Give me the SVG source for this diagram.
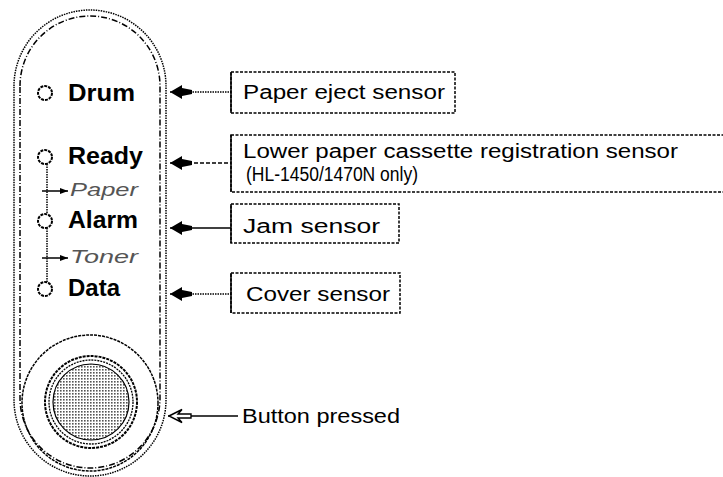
<svg xmlns="http://www.w3.org/2000/svg" width="723" height="477" viewBox="0 0 723 477">
<style>
.lbl{font-family:"Liberation Sans",Arial,sans-serif;font-weight:bold;font-size:23px;fill:#000}
.sub{font-family:"Liberation Sans",Arial,sans-serif;font-style:italic;font-size:19px;fill:#555}
.txt{font-family:"Liberation Sans",Arial,sans-serif;font-size:20px;fill:#000}
.box{fill:#fff;stroke:#000;stroke-width:1.5;stroke-dasharray:3 1.5}
.edge{stroke:#000;stroke-width:1.5;fill:none}
.led{fill:#fff;stroke:#000;stroke-width:2;stroke-dasharray:3 1}
</style>
<defs>
<pattern id="dots" width="3" height="3" patternUnits="userSpaceOnUse">
<rect width="3" height="3" fill="#fff"/>
<rect width="1.6" height="1.6" fill="#555"/>
</pattern>
<marker id="fill" markerUnits="userSpaceOnUse" markerWidth="24" markerHeight="16" refX="0" refY="8" orient="0" viewBox="0 0 24 16">
<path d="M0,8 L12,1 L12,4 L22,6 L22,10 L12,12 L12,15 Z" fill="#000"/>
</marker>
<marker id="hollow" markerUnits="userSpaceOnUse" markerWidth="24" markerHeight="16" refX="0" refY="8" orient="0" viewBox="0 0 24 16">
<path d="M1,8 L14,1.5 L10,6 L23,6 L23,10 L10,10 L14,14.5 Z" fill="#fff" stroke="#000" stroke-width="1.4"/>
</marker>
<marker id="small" markerUnits="userSpaceOnUse" markerWidth="10" markerHeight="8" refX="8" refY="4" orient="0" viewBox="0 0 10 8">
<path d="M0,1 L8,4 L0,7 Z" fill="#000"/>
</marker>
</defs>

<g id="panel">
<path d="M14,86 A76,76 0 0 1 166,86 L166,400 A76,76 0 0 1 14,400 Z" fill="none" stroke="#000" stroke-width="1.5" stroke-dasharray="1.5 1"/>
<path d="M20,86 A70,70 0 0 1 160,86 L160,398 A70,70 0 0 1 20,398 Z" fill="none" stroke="#000" stroke-width="1.5" stroke-dasharray="6 2 1 2"/>
<circle cx="90" cy="403" r="68" fill="none" stroke="#000" stroke-width="1.5" stroke-dasharray="3 1"/>
</g>

<g id="button">
<circle cx="91" cy="402" r="46" fill="#fff" stroke="#000" stroke-width="2" stroke-dasharray="3 1"/>
<circle cx="91" cy="402" r="42" fill="none" stroke="#000" stroke-width="1.3" stroke-dasharray="2 1"/>
<circle cx="91" cy="402" r="38" fill="url(#dots)" stroke="#000" stroke-width="1.2"/>
</g>

<g id="led-drum"><circle class="led" cx="45" cy="93" r="7"/><text class="lbl" x="68" y="101" textLength="67" lengthAdjust="spacingAndGlyphs">Drum</text></g>
<g id="led-ready"><circle class="led" cx="45" cy="157" r="7"/><text class="lbl" x="68" y="164" textLength="75" lengthAdjust="spacingAndGlyphs">Ready</text></g>
<g id="led-alarm"><circle class="led" cx="45" cy="221" r="7"/><text class="lbl" x="68" y="228" textLength="70" lengthAdjust="spacingAndGlyphs">Alarm</text></g>
<g id="led-data"><circle class="led" cx="45" cy="289" r="7"/><text class="lbl" x="68" y="296" textLength="52" lengthAdjust="spacingAndGlyphs">Data</text></g>
<g id="paper-label"><text class="sub" x="70" y="196" textLength="68" lengthAdjust="spacingAndGlyphs">Paper</text></g>
<g id="toner-label"><text class="sub" x="70" y="263" textLength="68" lengthAdjust="spacingAndGlyphs">Toner</text></g>

<g id="box-eject"><rect class="box" x="231" y="72" width="224" height="41"/><line x1="231" y1="72" x2="231" y2="113" stroke="#000" stroke-width="1.5"/><text class="txt" x="243" y="99" textLength="202" lengthAdjust="spacingAndGlyphs">Paper eject sensor</text></g>
<g id="box-reg"><rect class="box" x="231" y="135" width="500" height="57" stroke-dasharray="1 0.6"/><line x1="231" y1="135" x2="231" y2="192" stroke="#000" stroke-width="1.5"/><text class="txt" x="243" y="158" font-size="19" textLength="435" lengthAdjust="spacingAndGlyphs">Lower paper cassette registration sensor</text><text class="txt" x="246" y="181" font-size="15" textLength="172" lengthAdjust="spacingAndGlyphs">(HL-1450/1470N only)</text></g>
<g id="box-jam"><rect class="box" x="231" y="204" width="168" height="39"/><line x1="231" y1="204" x2="231" y2="243" stroke="#000" stroke-width="1.5"/><text class="txt" x="243" y="233" textLength="137" lengthAdjust="spacingAndGlyphs">Jam sensor</text></g>
<g id="box-cover"><rect class="box" x="231" y="273" width="169" height="40"/><line x1="231" y1="273" x2="231" y2="313" stroke="#000" stroke-width="1.5"/><text class="txt" x="246" y="301" textLength="144" lengthAdjust="spacingAndGlyphs">Cover sensor</text></g>
<g id="label-button"><text class="txt" x="242" y="423" textLength="158" lengthAdjust="spacingAndGlyphs">Button pressed</text></g>

<g id="connectors">
<line class="edge" x1="170" y1="92" x2="231" y2="92" stroke-dasharray="1.5 1" marker-start="url(#fill)"/>
<line class="edge" x1="170" y1="163" x2="231" y2="163" stroke-dasharray="4 2" marker-start="url(#fill)"/>
<line class="edge" x1="170" y1="228" x2="231" y2="228" marker-start="url(#fill)"/>
<line class="edge" x1="170" y1="294" x2="231" y2="294" stroke-dasharray="1.5 1" marker-start="url(#fill)"/>
<line class="edge" x1="168" y1="416" x2="238" y2="416" marker-start="url(#hollow)"/>
<line class="edge" x1="47" y1="164" x2="47" y2="214" stroke-dasharray="1.5 1"/>
<line class="edge" x1="47" y1="228" x2="47" y2="282" stroke-dasharray="1.5 1"/>
<line class="edge" x1="42" y1="191" x2="68" y2="191" marker-end="url(#small)"/>
<line class="edge" x1="42" y1="258" x2="68" y2="258" marker-end="url(#small)"/>
</g>
</svg>
